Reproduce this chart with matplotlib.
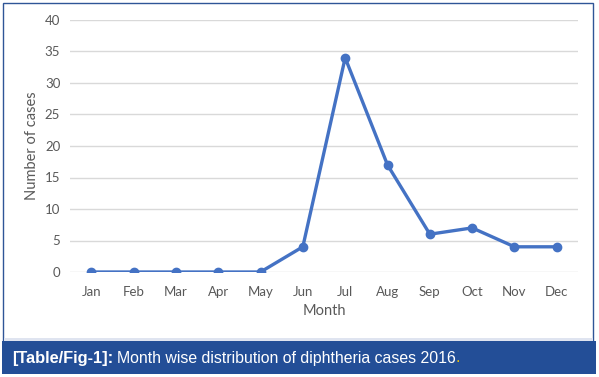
import matplotlib
matplotlib.use("Agg")
import matplotlib.pyplot as plt
from matplotlib.patches import Rectangle

months = ["Jan", "Feb", "Mar", "Apr", "May", "Jun", "Jul", "Aug", "Sep", "Oct", "Nov", "Dec"]
cases = [0, 0, 0, 0, 0, 4, 34, 17, 6, 7, 4, 4]
yticks = [0, 5, 10, 15, 20, 25, 30, 35, 40]

W, H = 599, 377
fig = plt.figure(figsize=(W / 100, H / 100), dpi=100)
fig.patch.set_facecolor("white")

# frame and caption bar
fig.patches.append(Rectangle((3 / W, 1 - 341 / H), 590 / W, 338 / H, transform=fig.transFigure,
                             fill=False, edgecolor="#2f5597", linewidth=1.0, zorder=0))
fig.patches.append(Rectangle((4 / W, 1 - 341 / H), 589 / W, 3 / H, transform=fig.transFigure,
                             facecolor="#dfe4f0", edgecolor="none", zorder=0))
fig.patches.append(Rectangle((2 / W, 1 - 374 / H), 594 / W, 33 / H, transform=fig.transFigure,
                             facecolor="#234e97", edgecolor="none", zorder=0))

ax = fig.add_axes([70 / W, 1 - 272 / H, 508 / W, 252 / H])
ax.set_facecolor("none")
x = list(range(len(months)))
ax.plot(x, cases, color="#4472c4", linewidth=2.4, marker="o", markersize=6, zorder=3)
ax.set_xlim(-0.5, 11.5)
ax.set_ylim(0, 40)
ax.set_yticks(yticks)
ax.set_xticks(x)
ax.set_xticklabels(months)
ax.grid(axis="y", color="#d9d9d9", linewidth=1)
ax.set_axisbelow(True)
for s in ax.spines.values():
    s.set_visible(False)
ax.tick_params(length=0, colors="#595959", labelsize=9.5)
ax.tick_params(axis="y", pad=7)
ax.tick_params(axis="x", pad=10)
for lab in ax.get_xticklabels() + ax.get_yticklabels():
    lab.set_fontfamily("Lato")
ax.set_xlabel("Month", fontsize=10.5, color="#595959", fontfamily="Lato")
ax.set_ylabel("Number of cases", fontsize=10.5, color="#595959", fontfamily="Lato")
ax.xaxis.set_label_coords(0.5, -0.128)
ax.yaxis.set_label_coords(-0.062, 0.5)

# caption
fig.canvas.draw()
r = fig.canvas.get_renderer()
t1 = fig.text(12 / W, 1 - 358 / H, "[Table/Fig-1]:", fontsize=11.8, fontweight="bold", color="white",
              fontfamily="Liberation Sans", va="center")
bb = t1.get_window_extent(r)
t2 = fig.text((bb.x1 + 4) / W, 1 - 358 / H, "Month wise distribution of diphtheria cases 2016",
              fontsize=11.4, color="white", fontfamily="Liberation Sans", va="center")
bb2 = t2.get_window_extent(r)
fig.text(bb2.x1 / W, 1 - 358 / H, ".", fontsize=11.4, color="#f2c200",
         fontfamily="Liberation Sans", va="center")

fig.savefig("out.png", dpi=100)
